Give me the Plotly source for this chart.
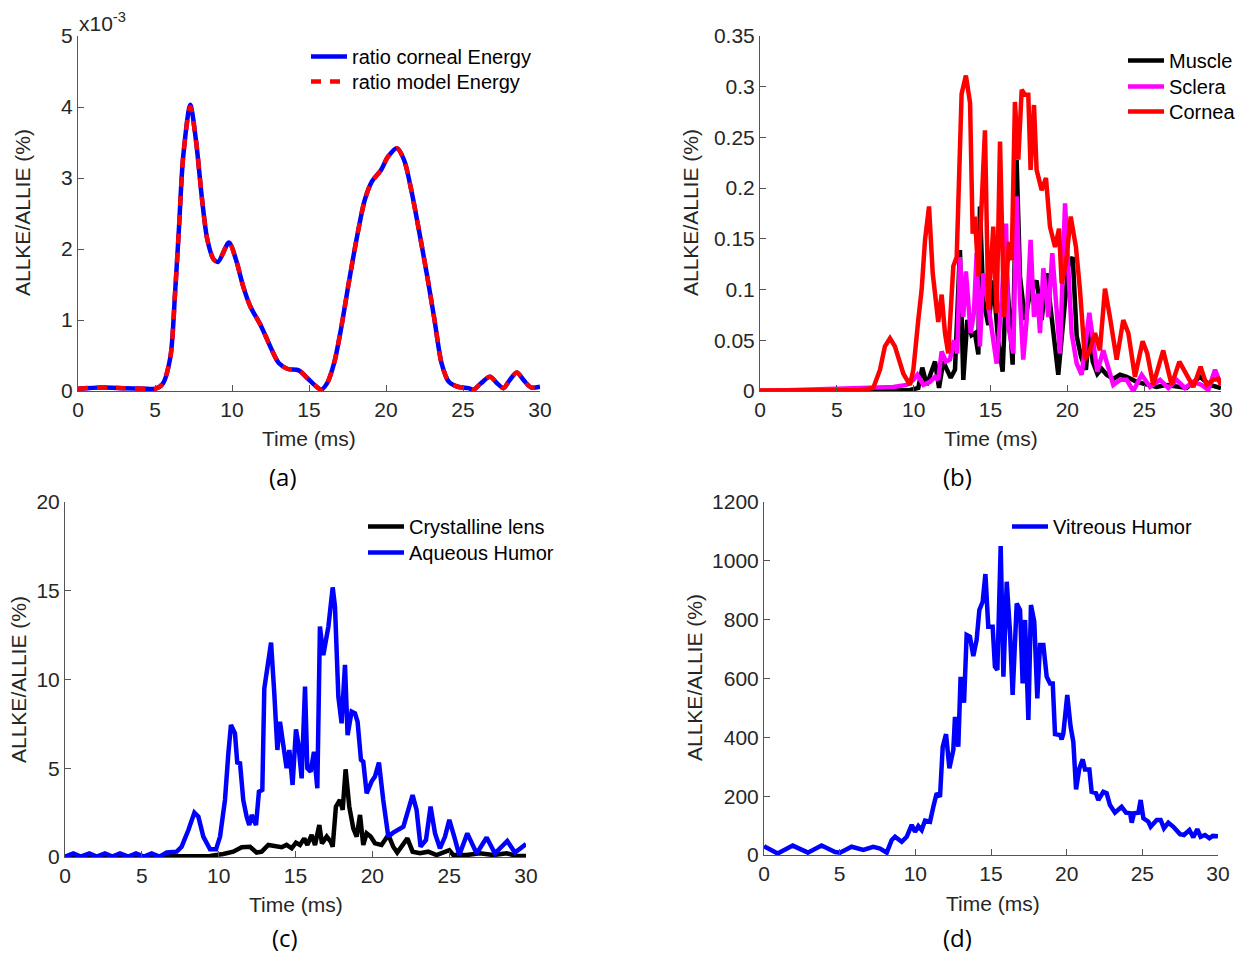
import plotly.graph_objects as go

# ---------------- Panel (a) : ratio of energies (values in x10^-3 %) ----------------
a_time = [0, 1.5, 3, 4.5, 5.0, 5.5, 6.0, 6.3, 6.55, 6.83, 7.29, 7.66, 8.06, 8.4, 8.82, 9.1, 9.8,
          10.26, 10.73, 11.19, 11.9, 12.58, 13.05, 13.63, 14.33, 14.9, 15.49, 15.79, 16.18, 16.65,
          17.1, 17.58, 18.16, 18.62, 19.08, 19.67, 20.13, 20.71, 21.18, 21.64, 22.1, 22.68, 23.15,
          23.61, 24.08, 24.66, 25.35, 25.7, 26.17, 26.75, 27.21, 27.63, 28.02, 28.49, 28.95, 29.42, 30]
a_corneal = [0.03, 0.05, 0.04, 0.03, 0.03, 0.1, 0.48, 1.37, 2.27, 3.3, 4.03, 3.53, 2.69, 2.13, 1.85,
             1.82, 2.09, 1.85, 1.47, 1.19, 0.91, 0.58, 0.39, 0.31, 0.29, 0.18, 0.06, 0.02, 0.11, 0.41,
             0.9, 1.52, 2.22, 2.69, 2.95, 3.11, 3.3, 3.42, 3.25, 2.83, 2.31, 1.61, 1.0, 0.39, 0.13,
             0.06, 0.04, 0.02, 0.11, 0.2, 0.11, 0.04, 0.15, 0.26, 0.15, 0.05, 0.06]
a_model = [0.03, 0.05, 0.04, 0.03, 0.03, 0.1, 0.48, 1.37, 2.27, 3.3, 4.0, 3.53, 2.69, 2.13, 1.85,
           1.82, 2.09, 1.85, 1.47, 1.19, 0.91, 0.58, 0.39, 0.31, 0.29, 0.18, 0.06, 0.02, 0.11, 0.41,
           0.9, 1.52, 2.22, 2.69, 2.95, 3.11, 3.3, 3.42, 3.25, 2.83, 2.31, 1.61, 1.0, 0.39, 0.13,
           0.06, 0.04, 0.02, 0.11, 0.2, 0.11, 0.04, 0.15, 0.26, 0.15, 0.05, 0.06]
a_yticks = [0, 1, 2, 3, 4, 5]

# ---------------- Panel (b) : Muscle / Sclera / Cornea ----------------
b_muscle_t = [0, 9.76, 10.3, 10.56, 10.85, 11.39, 11.65, 11.93, 12.41, 12.69, 13.01, 13.23, 13.49,
              13.77, 13.99, 14.21, 14.31, 14.53, 14.86, 15.18, 15.51, 15.79, 16.05, 16.44, 16.7,
              16.92, 17.24, 17.57, 18.0, 18.33, 18.65, 19.09, 19.41, 19.74, 20.06, 20.35, 20.61,
              20.89, 21.21, 21.43, 21.65, 21.95, 22.23, 22.56, 22.99, 23.43, 23.86, 24.51, 25.16,
              25.81, 26.46, 27.11, 27.76, 28.63, 29.28, 30]
b_muscle = [0.0, 0.001, 0.003, 0.023, 0.006, 0.029, 0.003, 0.029, 0.013, 0.021, 0.139, 0.011, 0.070,
            0.055, 0.057, 0.036, 0.182, 0.090, 0.065, 0.109, 0.047, 0.019, 0.116, 0.026, 0.228,
            0.113, 0.070, 0.096, 0.109, 0.070, 0.116, 0.057, 0.016, 0.070, 0.123, 0.132, 0.054,
            0.034, 0.021, 0.060, 0.029, 0.017, 0.022, 0.016, 0.012, 0.016, 0.014, 0.009, 0.006,
            0.004, 0.006, 0.004, 0.003, 0.014, 0.006, 0.003]
b_sclera_t = [0, 8.68, 9.54, 9.98, 10.24, 10.63, 11.06, 11.39, 11.6, 11.82, 12.1, 12.36, 12.62,
              12.84, 13.01, 13.23, 13.4, 13.71, 13.92, 14.1, 14.31, 14.53, 14.75, 15.01, 15.4,
              15.73, 16.01, 16.16, 16.48, 16.7, 16.92, 17.13, 17.35, 17.61, 17.83, 18.05, 18.22,
              18.44, 18.76, 19.02, 19.3, 19.52, 19.85, 20.06, 20.28, 20.61, 20.93, 21.43, 21.69,
              21.95, 22.34, 22.67, 22.99, 23.43, 23.86, 24.29, 24.84, 25.38, 26.03, 26.57, 27.11,
              27.65, 28.2, 28.74, 29.17, 29.61, 30]
b_sclera = [0.0, 0.004, 0.006, 0.011, 0.016, 0.006, 0.009, 0.014, 0.011, 0.039, 0.029, 0.031, 0.050,
            0.037, 0.132, 0.073, 0.118, 0.057, 0.077, 0.136, 0.044, 0.116, 0.096, 0.067, 0.027,
            0.090, 0.165, 0.064, 0.037, 0.192, 0.090, 0.031, 0.070, 0.149, 0.073, 0.096, 0.057,
            0.121, 0.073, 0.136, 0.086, 0.037, 0.185, 0.116, 0.057, 0.027, 0.016, 0.077, 0.047,
            0.019, 0.040, 0.024, 0.006, 0.011, 0.011, 0.0, 0.016, 0.004, 0.011, 0.003, 0.011,
            0.003, 0.009, 0.006, 0.001, 0.021, 0.006]
b_cornea_t = [0, 5.0, 6.51, 7.37, 7.81, 8.13, 8.46, 8.78, 9.33, 9.76, 9.98, 10.30, 10.52, 10.74,
              11.0, 11.24, 11.6, 11.82, 12.04, 12.25, 12.58, 12.8, 13.12, 13.4, 13.67, 13.84, 13.99,
              14.21, 14.64, 14.86, 15.18, 15.4, 15.62, 15.88, 16.2, 16.38, 16.59, 16.81, 17.03,
              17.24, 17.46, 17.61, 17.83, 18.0, 18.33, 18.61, 18.87, 19.2, 19.46, 19.63, 19.91,
              20.22, 20.56, 20.82, 21.15, 21.47, 21.8, 22.12, 22.45, 22.77, 23.21, 23.64, 23.97,
              24.4, 24.9, 25.2, 25.59, 26.24, 26.79, 27.29, 27.65, 28.2, 28.67, 29.06, 29.5, 29.82, 30]
b_cornea = [0.0005, 0.0005, 0.001, 0.003, 0.021, 0.044, 0.052, 0.044, 0.017, 0.006, 0.021, 0.070,
            0.100, 0.149, 0.182, 0.116, 0.068, 0.095, 0.057, 0.037, 0.123, 0.132, 0.293, 0.311,
            0.284, 0.155, 0.172, 0.113, 0.257, 0.080, 0.162, 0.077, 0.246, 0.073, 0.147, 0.129,
            0.285, 0.228, 0.297, 0.292, 0.292, 0.218, 0.282, 0.218, 0.198, 0.210, 0.162, 0.142,
            0.160, 0.106, 0.126, 0.172, 0.142, 0.100, 0.031, 0.040, 0.057, 0.040, 0.101, 0.073,
            0.031, 0.070, 0.057, 0.014, 0.049, 0.037, 0.006, 0.040, 0.006, 0.029, 0.019, 0.004,
            0.024, 0.006, 0.011, 0.012, 0.006]

# ---------------- Panel (c) : Crystalline lens / Aqueous Humor ----------------
c_lens_t = [0, 3, 6, 7.92, 9.44, 10.3, 10.95, 11.5, 12.04, 12.47, 12.8, 13.23, 13.73, 14.1, 14.42,
            14.75, 15.03, 15.29, 15.57, 15.77, 16.05, 16.27, 16.55, 16.72, 17.03, 17.29, 17.42,
            17.63, 17.89, 18.07, 18.26, 18.5, 18.76, 18.98, 19.2, 19.41, 19.63, 19.89, 20.17, 20.6,
            21.04, 21.36, 21.62, 21.91, 22.28, 22.62, 23.1, 23.64, 24.18, 25.01, 25.27, 26.14, 27.0,
            27.87, 28.74, 29.39, 30]
c_lens = [0.02, 0.03, 0.03, 0.05, 0.06, 0.17, 0.3, 0.55, 0.58, 0.25, 0.3, 0.68, 0.62, 0.55, 0.68,
          0.49, 0.81, 0.68, 1.05, 0.68, 1.24, 0.68, 1.8, 0.77, 1.15, 0.86, 0.58, 2.84, 3.21, 2.65,
          4.94, 2.84, 1.61, 1.15, 2.37, 0.68, 1.33, 1.15, 0.77, 0.68, 1.24, 0.58, 0.25, 0.58, 1.05,
          0.3, 0.21, 0.3, 0.11, 0.39, 0.11, 0.11, 0.21, 0.11, 0.21, 0.06, 0.06]
c_aqueous_t = [0.0, 0.54, 1.02, 1.58, 2.06, 2.6, 3.08, 3.58, 4.12, 4.62, 5.14, 5.64, 6.14, 6.62, 7.27,
               7.59, 8.03, 8.42, 8.68, 9.0, 9.44, 9.83, 10.09, 10.41, 10.63, 10.8, 11.06, 11.21,
               11.39, 11.6, 11.82, 11.99, 12.15, 12.43, 12.62, 12.84, 12.97, 13.17, 13.41, 13.62,
               13.82, 13.99, 14.21, 14.42, 14.6, 14.81, 15.03, 15.18, 15.4, 15.62, 15.77, 15.99,
               16.2, 16.42, 16.59, 16.81, 17.14, 17.42, 17.57, 17.79, 18.0, 18.22, 18.39, 18.65,
               18.87, 19.04, 19.26, 19.41, 19.63, 19.95, 20.17, 20.43, 20.71, 21.04, 21.36, 22.02,
               22.34, 22.62, 22.88, 23.14, 23.49, 23.79, 24.08, 24.4, 24.73, 25.01, 25.33, 25.66,
               26.18, 26.79, 27.44, 27.98, 28.78, 29.28, 30.0]
c_aqueous = [0.02, 0.2, 0.02, 0.2, 0.02, 0.2, 0.02, 0.2, 0.02, 0.2, 0.02, 0.2, 0.02, 0.25, 0.3,
             0.58, 1.52, 2.5, 2.27, 1.15, 0.43, 0.43, 1.15, 3.21, 5.84, 7.44, 6.97, 5.32, 5.28,
             3.21, 2.27, 1.8, 2.37, 1.8, 3.68, 3.78, 9.5, 10.54, 12.08, 9.22, 6.03, 7.62, 6.03, 5.0,
             6.03, 4.06, 7.19, 6.4, 4.43, 9.6, 5.0, 4.81, 5.93, 3.87, 12.98, 11.38, 12.98, 15.19,
             14.1, 9.03, 7.53, 10.82, 6.87, 8.19, 8.09, 7.62, 5.47, 5.37, 3.59, 4.25, 4.53, 5.32,
             3.21, 1.15, 1.37, 1.71, 2.65, 3.49, 2.65, 0.58, 0.96, 2.84, 1.33, 0.49, 1.15, 2.09,
             1.15, 0.11, 1.33, 0.2, 1.1, 0.2, 0.9, 0.25, 0.73]

# ---------------- Panel (d) : Vitreous Humor ----------------
d_t = [0, 0.9, 1.9, 2.9, 3.8, 4.7, 5.02, 5.79, 6.56, 7.22, 7.67, 8.11, 8.44, 8.66, 9.1, 9.43, 9.76,
       9.98, 10.2, 10.42, 10.64, 10.97, 11.19, 11.41, 11.63, 11.81, 12.03, 12.25, 12.51, 12.62,
       12.84, 12.99, 13.22, 13.39, 13.61, 13.83, 14.05, 14.23, 14.45, 14.63, 14.82, 15.11, 15.26,
       15.42, 15.64, 15.82, 16.04, 16.26, 16.43, 16.7, 16.92, 17.09, 17.25, 17.47, 17.64, 17.86,
       18.06, 18.24, 18.46, 18.68, 18.9, 19.08, 19.23, 19.56, 19.67, 19.78, 20.04, 20.26, 20.44,
       20.62, 20.84, 21.06, 21.21, 21.5, 21.65, 21.94, 22.09, 22.42, 22.64, 22.86, 23.19, 23.63,
       23.92, 24.19, 24.3, 24.45, 24.74, 24.89, 25.07, 25.4, 25.55, 25.95, 26.21, 26.43, 26.72,
       27.05, 27.49, 27.75, 28.11, 28.37, 28.63, 28.85, 29.14, 29.43, 29.65, 30.0]
d_vitreous = [30, 5, 32, 8, 32, 10, 8, 28, 17, 28, 22, 8, 51, 62, 45, 62, 102, 79, 98, 85, 117, 113,
              164, 210, 198, 368, 411, 295, 357, 470, 368, 606, 518, 748, 742, 676, 731, 833, 861,
              955, 776, 776, 640, 629, 1050, 606, 929, 753, 544, 855, 833, 583, 799, 459, 850, 793,
              532, 714, 714, 606, 583, 583, 411, 408, 393, 413, 544, 436, 385, 223, 295, 325, 291,
              291, 215, 210, 187, 215, 210, 170, 144, 164, 144, 142, 110, 142, 144, 187, 125, 113,
              96, 119, 119, 91, 110, 96, 71, 68, 85, 60, 88, 62, 68, 57, 65, 64]

for xs, ys in [(a_time, a_corneal), (a_time, a_model), (b_muscle_t, b_muscle),
               (b_sclera_t, b_sclera), (b_cornea_t, b_cornea), (c_lens_t, c_lens),
               (c_aqueous_t, c_aqueous), (d_t, d_vitreous)]:
    assert len(xs) == len(ys), (len(xs), len(ys))

W, H = 1244, 954
FAM = "Liberation Sans, Arial, sans-serif"
TICK_FONT = dict(family=FAM, size=21, color="#262626")
TITLE_FONT = dict(family=FAM, size=21, color="#262626")
LEG_FONT = dict(family=FAM, size=20, color="#000000")
AXC = "#555555"
LW = 4.5
ITEMW = 36


def px_dom_x(l, r):
    return [l / W, r / W]


def px_dom_y(top, bottom):
    return [1 - bottom / H, 1 - top / H]


fig = go.Figure()

# (a)
fig.add_trace(go.Scatter(x=a_time, y=a_corneal, mode="lines", name="ratio corneal Energy",
                         line=dict(color="#0000FF", width=LW, shape="spline", smoothing=0.8),
                         xaxis="x", yaxis="y", legend="legend"))
fig.add_trace(go.Scatter(x=a_time, y=a_model, mode="lines", name="ratio model Energy",
                         line=dict(color="#FF0000", width=LW, shape="spline", smoothing=0.8,
                                   dash="10px,9px"),
                         xaxis="x", yaxis="y", legend="legend2"))
# (b)
fig.add_trace(go.Scatter(x=b_muscle_t, y=b_muscle, mode="lines", name="Muscle",
                         line=dict(color="#000000", width=LW), xaxis="x2", yaxis="y2", legend="legend3"))
fig.add_trace(go.Scatter(x=b_sclera_t, y=b_sclera, mode="lines", name="Sclera",
                         line=dict(color="#FF00FF", width=LW), xaxis="x2", yaxis="y2", legend="legend4"))
fig.add_trace(go.Scatter(x=b_cornea_t, y=b_cornea, mode="lines", name="Cornea",
                         line=dict(color="#FF0000", width=LW), xaxis="x2", yaxis="y2", legend="legend5"))
# (c)
fig.add_trace(go.Scatter(x=c_lens_t, y=c_lens, mode="lines", name="Crystalline lens",
                         line=dict(color="#000000", width=LW), xaxis="x3", yaxis="y3", legend="legend6"))
fig.add_trace(go.Scatter(x=c_aqueous_t, y=c_aqueous, mode="lines", name="Aqueous Humor",
                         line=dict(color="#0000FF", width=LW), xaxis="x3", yaxis="y3", legend="legend7"))
# (d)
fig.add_trace(go.Scatter(x=d_t, y=d_vitreous, mode="lines", name="Vitreous Humor",
                         line=dict(color="#0000FF", width=LW), xaxis="x4", yaxis="y4", legend="legend8"))


def xax(dom, anchor):
    return dict(domain=dom, anchor=anchor, range=[0, 30], dtick=5, tick0=0, automargin=False,
                showline=True, linecolor=AXC, linewidth=1, ticks="inside", ticklen=6,
                tickcolor=AXC, showgrid=False, zeroline=False, tickfont=TICK_FONT)


def yax(dom, anchor, rng, dtick, **kw):
    d = dict(domain=dom, anchor=anchor, range=rng, dtick=dtick, tick0=0, automargin=False,
             showline=True, linecolor=AXC, linewidth=1, ticks="inside", ticklen=6,
             tickcolor=AXC, showgrid=False, zeroline=False, tickfont=TICK_FONT)
    d.update(kw)
    return d


def legend_at(text_left_px, center_px):
    return dict(x=(text_left_px - 40 - (ITEMW - 30)) / W, y=1 - (center_px - 20) / H,
                xanchor="left", yanchor="top", bgcolor="rgba(0,0,0,0)", borderwidth=0,
                font=LEG_FONT, itemwidth=ITEMW)


fig.update_layout(
    width=W, height=H, margin=dict(l=0, r=0, t=0, b=0, autoexpand=False),
    paper_bgcolor="white", plot_bgcolor="white", showlegend=True,
    xaxis=xax(px_dom_x(78, 540), "y"),
    yaxis=yax(px_dom_y(36, 391), "x", [0, 5], None, tickvals=a_yticks,
              ticktext=[str(v) for v in a_yticks]),
    xaxis2=xax(px_dom_x(760, 1221), "y2"),
    yaxis2=yax(px_dom_y(36, 391), "x2", [0, 0.35], 0.05),
    xaxis3=xax(px_dom_x(65, 526), "y3"),
    yaxis3=yax(px_dom_y(502, 857), "x3", [0, 20], 5),
    xaxis4=xax(px_dom_x(764, 1218), "y4"),
    yaxis4=yax(px_dom_y(502, 855), "x4", [0, 1200], 200),
    legend=legend_at(352, 57),
    legend2=legend_at(352, 82),
    legend3=legend_at(1169, 61),
    legend4=legend_at(1169, 87),
    legend5=legend_at(1169, 112),
    legend6=legend_at(409, 527),
    legend7=legend_at(409, 553),
    legend8=legend_at(1053, 527),
)

# axis titles
for xc, yc in [(309, 438), (991, 438), (296, 904), (993, 903)]:
    fig.add_annotation(text="Time (ms)", x=xc / W, y=1 - yc / H, xref="paper", yref="paper",
                       showarrow=False, xanchor="center", yanchor="middle", font=TITLE_FONT)
for xc, yc in [(22, 213), (690, 213), (18, 680), (694, 678)]:
    fig.add_annotation(text="ALLKE/ALLIE (%)", x=xc / W, y=1 - yc / H, xref="paper", yref="paper",
                       showarrow=False, xanchor="center", yanchor="middle", textangle=-90,
                       font=TITLE_FONT)

CAP_FONT = dict(family="Open Sans, Noto Sans, sans-serif", size=24, color="#000000")
for label, xc, yc in [("(a)", 283, 476), ("(b)", 957, 476), ("(c)", 285, 937), ("(d)", 957, 937)]:
    fig.add_annotation(text=label, x=xc / W, y=1 - yc / H, xref="paper", yref="paper",
                       showarrow=False, xanchor="center", yanchor="middle", font=CAP_FONT)

fig.add_annotation(text="x10<sup>-3</sup>", x=77 / W, y=1 - 22 / H, xref="paper", yref="paper",
                   showarrow=False, xanchor="left", yanchor="middle", font=TICK_FONT)

# the page body otherwise adds an 8px margin around the figure
fig.write_html("out.html", config={"displayModeBar": False},
               post_script="document.body.style.margin='0';")
